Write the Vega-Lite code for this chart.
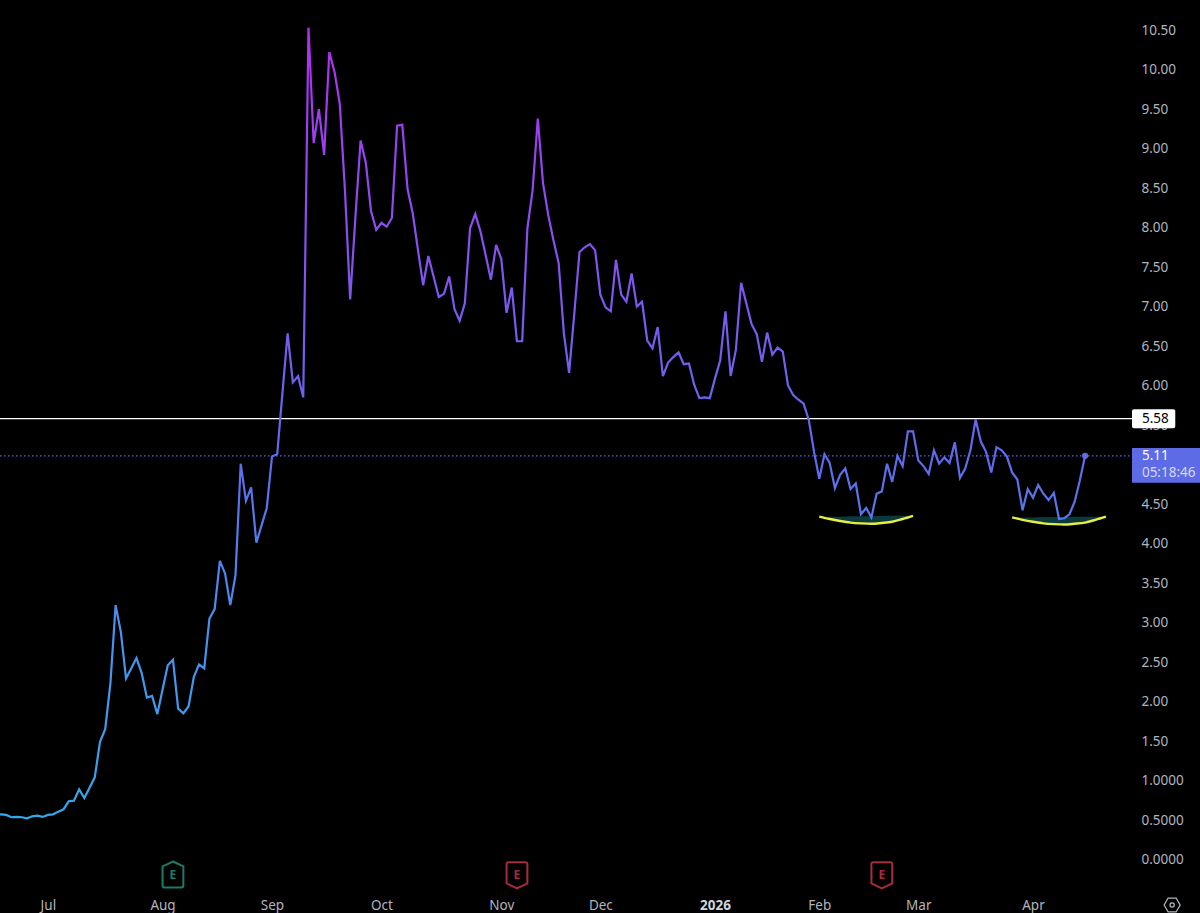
{
  "$schema": "https://vega.github.io/schema/vega-lite/v6.json",
  "width": 1132,
  "height": 885,
  "padding": {"left": 0, "top": 0, "right": 68, "bottom": 28},
  "autosize": {"type": "none"},
  "background": "#000000",
  "config": {"view": {"stroke": null}, "font": "Noto Sans"},
  "datasets": {
    "price": [
      {"bar":0,"price":0.57},{"bar":1,"price":0.572},{"bar":2,"price":0.564},{"bar":3,"price":0.535},{"bar":4,"price":0.539},{"bar":5,"price":0.535},{"bar":6,"price":0.522},{"bar":7,"price":0.547},{"bar":8,"price":0.555},{"bar":9,"price":0.539},
      {"bar":10,"price":0.564},{"bar":11,"price":0.572},{"bar":12,"price":0.606},{"bar":13,"price":0.635},{"bar":14,"price":0.737},{"bar":15,"price":0.745},{"bar":16,"price":0.889},{"bar":17,"price":0.778},{"bar":18,"price":0.909},{"bar":19,"price":1.04},
      {"bar":20,"price":1.49},{"bar":21,"price":1.65},{"bar":22,"price":2.23},{"bar":23,"price":3.22},{"bar":24,"price":2.88},{"bar":25,"price":2.29},{"bar":26,"price":2.42},{"bar":27,"price":2.55},{"bar":28,"price":2.36},{"bar":29,"price":2.05},
      {"bar":30,"price":2.07},{"bar":31,"price":1.84},{"bar":32,"price":2.15},{"bar":33,"price":2.46},{"bar":34,"price":2.53},{"bar":35,"price":1.91},{"bar":36,"price":1.85},{"bar":37,"price":1.94},{"bar":38,"price":2.31},{"bar":39,"price":2.47},
      {"bar":40,"price":2.42},{"bar":41,"price":3.05},{"bar":42,"price":3.17},{"bar":43,"price":3.78},{"bar":44,"price":3.62},{"bar":45,"price":3.22},{"bar":46,"price":3.6},{"bar":47,"price":5.01},{"bar":48,"price":4.54},{"bar":49,"price":4.71},
      {"bar":50,"price":4.01},{"bar":51,"price":4.23},{"bar":52,"price":4.45},{"bar":53,"price":5.1},{"bar":54,"price":5.13},{"bar":55,"price":5.9},{"bar":56,"price":6.66},{"bar":57,"price":6.04},{"bar":58,"price":6.12},{"bar":59,"price":5.85},
      {"bar":60,"price":10.53},{"bar":61,"price":9.07},{"bar":62,"price":9.5},{"bar":63,"price":8.92},{"bar":64,"price":10.22},{"bar":65,"price":9.97},{"bar":66,"price":9.57},{"bar":67,"price":8.47},{"bar":68,"price":7.09},{"bar":69,"price":8.13},
      {"bar":70,"price":9.1},{"bar":71,"price":8.82},{"bar":72,"price":8.21},{"bar":73,"price":7.97},{"bar":74,"price":8.06},{"bar":75,"price":8.01},{"bar":76,"price":8.12},{"bar":77,"price":9.29},{"bar":78,"price":9.3},{"bar":79,"price":8.49},
      {"bar":80,"price":8.18},{"bar":81,"price":7.72},{"bar":82,"price":7.27},{"bar":83,"price":7.64},{"bar":84,"price":7.38},{"bar":85,"price":7.12},{"bar":86,"price":7.16},{"bar":87,"price":7.38},{"bar":88,"price":6.97},{"bar":89,"price":6.82},
      {"bar":90,"price":7.04},{"bar":91,"price":7.99},{"bar":92,"price":8.17},{"bar":93,"price":7.95},{"bar":94,"price":7.65},{"bar":95,"price":7.34},{"bar":96,"price":7.78},{"bar":97,"price":7.6},{"bar":98,"price":6.92},{"bar":99,"price":7.24},
      {"bar":100,"price":6.56},{"bar":101,"price":6.56},{"bar":102,"price":7.99},{"bar":103,"price":8.47},{"bar":104,"price":9.38},{"bar":105,"price":8.56},{"bar":106,"price":8.16},{"bar":107,"price":7.84},{"bar":108,"price":7.55},{"bar":109,"price":6.66},
      {"bar":110,"price":6.16},{"bar":111,"price":6.91},{"bar":112,"price":7.69},{"bar":113,"price":7.75},{"bar":114,"price":7.79},{"bar":115,"price":7.71},{"bar":116,"price":7.15},{"bar":117,"price":6.99},{"bar":118,"price":6.94},{"bar":119,"price":7.59},
      {"bar":120,"price":7.15},{"bar":121,"price":7.06},{"bar":122,"price":7.42},{"bar":123,"price":7.0},{"bar":124,"price":7.06},{"bar":125,"price":6.57},{"bar":126,"price":6.47},{"bar":127,"price":6.74},{"bar":128,"price":6.12},{"bar":129,"price":6.29},
      {"bar":130,"price":6.36},{"bar":131,"price":6.42},{"bar":132,"price":6.27},{"bar":133,"price":6.28},{"bar":134,"price":6.01},{"bar":135,"price":5.84},{"bar":136,"price":5.85},{"bar":137,"price":5.84},{"bar":138,"price":6.09},{"bar":139,"price":6.32},
      {"bar":140,"price":6.94},{"bar":141,"price":6.12},{"bar":142,"price":6.45},{"bar":143,"price":7.3},{"bar":144,"price":7.04},{"bar":145,"price":6.78},{"bar":146,"price":6.65},{"bar":147,"price":6.3},{"bar":148,"price":6.67},{"bar":149,"price":6.39},
      {"bar":150,"price":6.48},{"bar":151,"price":6.43},{"bar":152,"price":6.0},{"bar":153,"price":5.88},{"bar":154,"price":5.82},{"bar":155,"price":5.77},{"bar":156,"price":5.56},{"bar":157,"price":5.16},{"bar":158,"price":4.82},{"bar":159,"price":5.13},
      {"bar":160,"price":5.02},{"bar":161,"price":4.7},{"bar":162,"price":4.87},{"bar":163,"price":4.95},{"bar":164,"price":4.69},{"bar":165,"price":4.76},{"bar":166,"price":4.37},{"bar":167,"price":4.45},{"bar":168,"price":4.33},{"bar":169,"price":4.63},
      {"bar":170,"price":4.66},{"bar":171,"price":5.01},{"bar":172,"price":4.78},{"bar":173,"price":5.11},{"bar":174,"price":4.98},{"bar":175,"price":5.42},{"bar":176,"price":5.42},{"bar":177,"price":5.05},{"bar":178,"price":4.98},{"bar":179,"price":4.88},
      {"bar":180,"price":5.18},{"bar":181,"price":5.01},{"bar":182,"price":5.09},{"bar":183,"price":5.02},{"bar":184,"price":5.28},{"bar":185,"price":4.83},{"bar":186,"price":4.95},{"bar":187,"price":5.18},{"bar":188,"price":5.57},{"bar":189,"price":5.29},
      {"bar":190,"price":5.16},{"bar":191,"price":4.9},{"bar":192,"price":5.22},{"bar":193,"price":5.18},{"bar":194,"price":5.1},{"bar":195,"price":4.9},{"bar":196,"price":4.81},{"bar":197,"price":4.42},{"bar":198,"price":4.69},{"bar":199,"price":4.58},
      {"bar":200,"price":4.74},{"bar":201,"price":4.63},{"bar":202,"price":4.55},{"bar":203,"price":4.64},{"bar":204,"price":4.31},{"bar":205,"price":4.32},{"bar":206,"price":4.37},{"bar":207,"price":4.53},{"bar":208,"price":4.8},{"bar":209,"price":5.11}
    ],
    "arcs": [
      {"arc":"a","bar":158,"price":4.34,"chord":4.34},{"arc":"a","bar":160,"price":4.31,"chord":4.34},{"arc":"a","bar":162,"price":4.285,"chord":4.34},{"arc":"a","bar":164,"price":4.265,"chord":4.345},{"arc":"a","bar":166,"price":4.255,"chord":4.345},{"arc":"a","bar":168,"price":4.25,"chord":4.345},{"arc":"a","bar":170,"price":4.26,"chord":4.35},{"arc":"a","bar":172,"price":4.275,"chord":4.35},{"arc":"a","bar":174,"price":4.31,"chord":4.35},{"arc":"a","bar":176,"price":4.35,"chord":4.35},
      {"arc":"b","bar":195,"price":4.33,"chord":4.33},{"arc":"b","bar":197,"price":4.3,"chord":4.33},{"arc":"b","bar":199,"price":4.275,"chord":4.33},{"arc":"b","bar":201,"price":4.255,"chord":4.335},{"arc":"b","bar":203,"price":4.245,"chord":4.335},{"arc":"b","bar":205,"price":4.24,"chord":4.335},{"arc":"b","bar":207,"price":4.25,"chord":4.34},{"arc":"b","bar":209,"price":4.265,"chord":4.34},{"arc":"b","bar":211,"price":4.3,"chord":4.34},{"arc":"b","bar":213,"price":4.34,"chord":4.34}
    ],
    "icons": [
      {"bar":34,"price":-0.19,"kind":"beat"},
      {"bar":100,"price":-0.2,"kind":"miss"},
      {"bar":170,"price":-0.2,"kind":"miss"}
    ]
  },
  "encoding": {
    "x": {
      "field": "bar",
      "type": "quantitative",
      "title": null,
      "scale": {"domain": [0.817, 218], "nice": false, "zero": false},
      "axis": {
        "orient": "bottom",
        "values": [10, 32, 53, 74, 97, 116, 138, 158, 177, 199],
        "labelExpr": "{'10':'Jul','32':'Aug','53':'Sep','74':'Oct','97':'Nov','116':'Dec','138':'2026','158':'Feb','177':'Mar','199':'Apr'}[datum.value]",
        "grid": false, "domain": false, "ticks": false,
        "labelColor": {"condition": {"test": "datum.value == 138", "value": "#d1d4dc"}, "value": "#b2b5be"},
        "labelFontWeight": {"condition": {"test": "datum.value == 138", "value": "bold"}, "value": "normal"},
        "labelFontSize": 13.5, "labelFont": "Noto Sans", "labelPadding": 13,
        "labelOverlap": false, "labelFlush": false, "labelBound": false
      }
    },
    "y": {
      "field": "price",
      "type": "quantitative",
      "title": null,
      "scale": {"domain": [-0.3228, 10.88], "nice": false, "zero": false},
      "axis": {
        "orient": "right",
        "values": [0, 0.5, 1, 1.5, 2, 2.5, 3, 3.5, 4, 4.5, 5, 5.5, 6, 6.5, 7, 7.5, 8, 8.5, 9, 9.5, 10, 10.5],
        "labelExpr": "datum.value <= 1 ? format(datum.value, '.4f') : format(datum.value, '.2f')",
        "grid": false, "domain": false, "ticks": false,
        "labelColor": "#b2b5be", "labelFontSize": 13.5, "labelFont": "Noto Sans", "labelPadding": 9,
        "labelOverlap": false, "labelFlush": false, "labelBound": false
      }
    }
  },
  "layer": [
    {
      "data": {"values": [{"bar": 0.817, "bar2": 218, "price": 5.11}]},
      "mark": {"type": "rule", "color": "#5a63e4", "strokeWidth": 1.3, "strokeDash": [1.5, 2.5]},
      "encoding": {"x2": {"field": "bar2"}}
    },
    {
      "data": {"values": [{"bar": 0.817, "bar2": 218, "price": 5.58}]},
      "mark": {"type": "rule", "color": "#ffffff", "strokeWidth": 1.3},
      "encoding": {"x2": {"field": "bar2"}}
    },
    {
      "data": {"name": "arcs"},
      "mark": {"type": "area", "color": "#0c3a3c", "interpolate": "monotone"},
      "encoding": {"y2": {"field": "chord"}, "detail": {"field": "arc"}}
    },
    {
      "data": {"name": "arcs"},
      "mark": {"type": "line", "color": "#e4ef3e", "strokeWidth": 2.4, "interpolate": "monotone"},
      "encoding": {"detail": {"field": "arc"}}
    },
    {
      "data": {"name": "price"},
      "mark": {
        "type": "line",
        "clip": true,
        "strokeWidth": 2.2,
        "stroke": {
          "gradient": "linear", "x1": 0, "y1": 1, "x2": 0, "y2": 0,
          "stops": [
            {"offset": 0, "color": "#33a8ea"},
            {"offset": 0.25, "color": "#4a8ff0"},
            {"offset": 0.45, "color": "#5d6ceb"},
            {"offset": 0.65, "color": "#7d58f0"},
            {"offset": 0.85, "color": "#9a42f0"},
            {"offset": 1, "color": "#b32df0"}
          ]
        }
      }
    },
    {
      "data": {"values": [{"bar": 209, "price": 5.11}]},
      "mark": {"type": "point", "filled": true, "color": "#5f6de8", "opacity": 1, "size": 38}
    },
    {
      "data": {"name": "icons"},
      "mark": {"type": "point", "filled": false, "strokeWidth": 2, "opacity": 1, "size": 676},
      "encoding": {
        "shape": {
          "field": "kind",
          "legend": null,
          "scale": {
            "domain": ["beat", "miss"],
            "range": [
              "M0,-1 L0.8,-0.62 L0.8,0.85 Q0.8,1 0.65,1 L-0.65,1 Q-0.8,1 -0.8,0.85 L-0.8,-0.62 Z",
              "M0,1 L0.8,0.62 L0.8,-0.85 Q0.8,-1 0.65,-1 L-0.65,-1 Q-0.8,-1 -0.8,-0.85 L-0.8,0.62 Z"
            ]
          }
        },
        "color": {
          "field": "kind",
          "legend": null,
          "scale": {"domain": ["beat", "miss"], "range": ["#1c7a68", "#a82a3e"]}
        }
      }
    },
    {
      "data": {"name": "icons"},
      "mark": {"type": "text", "text": "E", "fontSize": 12, "fontWeight": "bold", "font": "Noto Sans"},
      "encoding": {
        "color": {
          "field": "kind",
          "legend": null,
          "scale": {"domain": ["beat", "miss"], "range": ["#1c7a68", "#a82a3e"]}
        }
      }
    },
    {
      "data": {"values": [{"bar": 225.7, "price": -0.576}]},
      "mark": {
        "type": "point", "filled": false, "color": "#b2b5be", "strokeWidth": 1.3, "opacity": 1, "size": 256,
        "shape": "M-1,0 L-0.5,-0.87 L0.5,-0.87 L1,0 L0.5,0.87 L-0.5,0.87 Z"
      }
    },
    {
      "data": {"values": [{"bar": 225.7, "price": -0.576}]},
      "mark": {"type": "point", "filled": false, "color": "#b2b5be", "strokeWidth": 1.3, "opacity": 1, "size": 18, "shape": "circle"}
    },
    {
      "data": {"values": [{"bar": 218, "bar2": 226.3, "price": 5.7, "price2": 5.46}]},
      "mark": {"type": "rect", "color": "#ffffff", "cornerRadius": 2},
      "encoding": {"x2": {"field": "bar2"}, "y2": {"field": "price2"}}
    },
    {
      "data": {"values": [{"bar": 218, "bar2": 231.1, "price": 5.21, "price2": 4.77}]},
      "mark": {"type": "rect", "color": "#5d6be6"},
      "encoding": {"x2": {"field": "bar2"}, "y2": {"field": "price2"}}
    },
    {
      "data": {"values": [
        {"bar": 219.9, "price": 5.58, "label": "5.58", "tone": "a"},
        {"bar": 219.9, "price": 5.11, "label": "5.11", "tone": "b"},
        {"bar": 219.9, "price": 4.89, "label": "05:18:46", "tone": "c"}
      ]},
      "mark": {"type": "text", "align": "left", "baseline": "middle", "fontSize": 13.5, "font": "Noto Sans"},
      "encoding": {
        "text": {"field": "label"},
        "color": {
          "field": "tone",
          "legend": null,
          "scale": {"domain": ["a", "b", "c"], "range": ["#000000", "#ffffff", "#d6dafa"]}
        }
      }
    }
  ],
  "resolve": {"scale": {"color": "independent", "shape": "independent"}}
}
